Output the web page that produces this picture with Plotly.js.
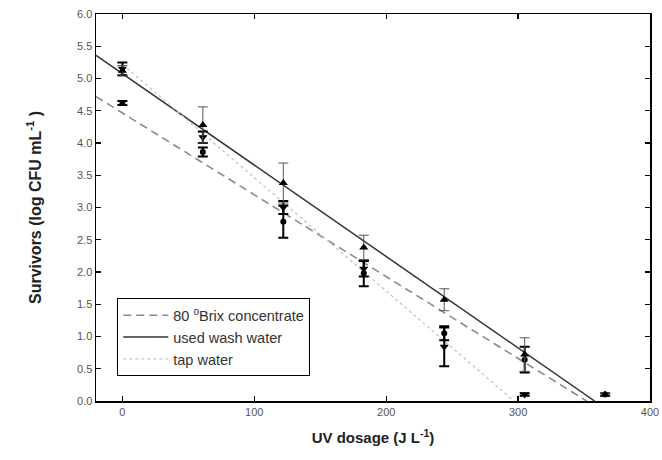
<!DOCTYPE html>
<html>
<head>
<meta charset="utf-8">
<script src="https://cdn.plot.ly/plotly-3.0.1.min.js"></script>
<style>html,body{margin:0;padding:0;background:#fff;}#chart{width:662px;height:460px;}</style>
</head>
<body>
<div id="chart"></div>
<script>
// UV dosage (J L-1)
const washX = [0, 61, 122, 183, 244, 305, 366];
const washY = [5.12, 4.28, 3.38, 2.38, 1.57, 0.72, 0.10];
const washErr = [0.08, 0.28, 0.31, 0.19, 0.17, 0.26, 0.02];

const brixX = [0, 61, 122, 183, 244, 305, 366];
const brixY = [4.62, 3.86, 2.78, 1.98, 1.05, 0.64, 0.10];
const brixErr = [0.03, 0.07, 0.25, 0.20, 0.11, 0.20, 0.02];

const tapX = [0, 61, 122, 183, 244, 305];
const tapY = [5.15, 4.09, 3.00, 2.05, 0.84, 0.10];
const tapErr = [0.10, 0.09, 0.10, 0.12, 0.30, 0.02];

// regression lines (end points)
const brixLineX = [-20, 352];
const brixLineY = [4.72, 0];
const washLineX = [-20, 358];
const washLineY = [5.36, 0];
const tapLineX = [0, 297];
const tapLineY = [5.22, 0];

const xTicks = [0, 100, 200, 300, 400];
const yTicks = [0, 0.5, 1, 1.5, 2, 2.5, 3, 3.5, 4, 4.5, 5, 5.5, 6];
const yTickText = yTicks.map(v => v.toFixed(1));

const traces = [
  {x: brixLineX, y: brixLineY, mode: 'lines', name: '80 <sup>o</sup>Brix concentrate',
   line: {color: '#8a8a8a', width: 1.6, dash: '8px,5px'}},
  {x: washLineX, y: washLineY, mode: 'lines', name: 'used wash water',
   line: {color: '#333333', width: 1.5}},
  {x: tapLineX, y: tapLineY, mode: 'lines', name: 'tap water',
   line: {color: '#c4c4c4', width: 1.3, dash: 'dot'}},
  {x: brixX, y: brixY, mode: 'markers', showlegend: false,
   marker: {symbol: 'circle', size: 6, color: '#000'},
   error_y: {type: 'data', array: brixErr, visible: true, color: '#000', thickness: 2, width: 5}},
  {x: tapX, y: tapY, mode: 'markers', showlegend: false,
   marker: {symbol: 'triangle-down', size: 8, color: '#000'},
   error_y: {type: 'data', array: tapErr, visible: true, color: '#000', thickness: 2, width: 5}},
  {x: washX, y: washY, mode: 'markers', showlegend: false,
   marker: {symbol: 'triangle-up', size: 8, color: '#000'},
   error_y: {type: 'data', array: washErr, visible: true, color: '#555', thickness: 1, width: 5}}
];

const layout = {
  width: 662, height: 460,
  margin: {l: 96, r: 12, t: 14, b: 59},
  paper_bgcolor: '#fff', plot_bgcolor: '#fff',
  font: {family: 'Liberation Sans, Arial, sans-serif', color: '#333'},
  showlegend: true,
  legend: {x: 0.038, y: 0.266, xanchor: 'left', yanchor: 'top',
    bordercolor: '#000', borderwidth: 1.2, bgcolor: '#fff',
    itemwidth: 45,
    font: {size: 14.5, color: '#333', family: 'Liberation Sans, Arial, sans-serif'},
    tracegroupgap: 0},
  xaxis: {
    range: [-20, 400], tickvals: xTicks, ticktext: xTicks.map(String),
    ticks: 'inside', ticklen: 5, tickwidth: 1.2, tickcolor: '#000',
    showline: true, linecolor: '#000', linewidth: 1.5, mirror: 'ticks',
    showgrid: false, zeroline: false,
    tickfont: {size: 11, color: '#555'},
    title: {text: '<b>UV dosage (J L<sup>-1</sup>)</b>', font: {size: 15, color: '#222'}, standoff: 16}
  },
  yaxis: {
    range: [0, 6], tickvals: yTicks, ticktext: yTickText,
    ticks: 'inside', ticklen: 5, tickwidth: 1.2, tickcolor: '#000',
    showline: true, linecolor: '#000', linewidth: 1.5, mirror: 'ticks',
    showgrid: false, zeroline: false,
    tickfont: {size: 11, color: '#555'},
    title: {text: '<b>Survivors (log CFU mL<sup>-1</sup> )</b>', font: {size: 16, color: '#222'}, standoff: 31}
  }
};

Plotly.newPlot('chart', traces, layout, {displayModeBar: false, staticPlot: true});
</script>
</body>
</html>
